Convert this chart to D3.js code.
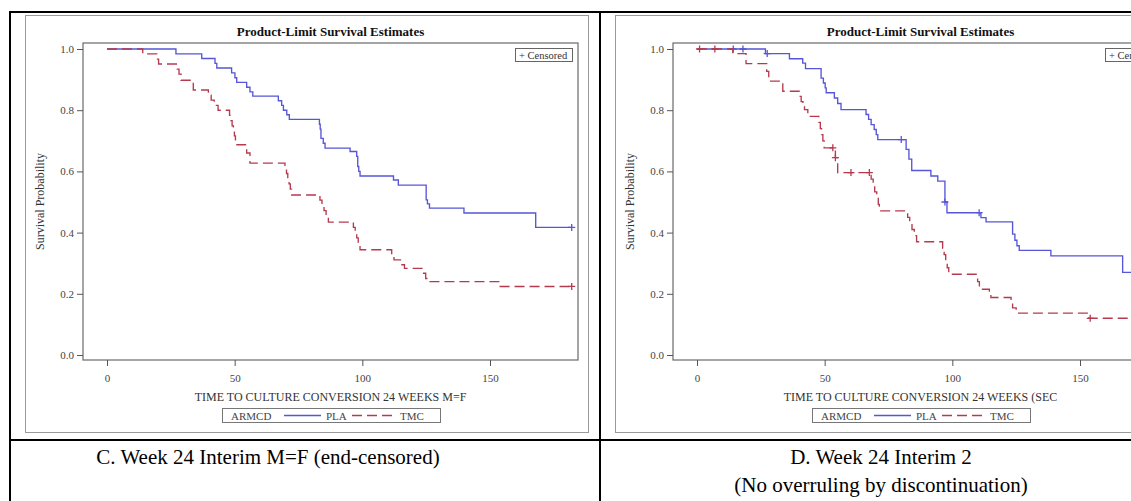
<!DOCTYPE html>
<html><head><meta charset="utf-8">
<script src="https://cdn.jsdelivr.net/npm/d3@7"></script>
<style>body{margin:0;background:#fff}svg{display:block}</style>
</head><body><svg id="c" width="1131" height="501"></svg>
<script>
// ---------- data ----------
const xTicks = [0, 50, 100, 150];
const yTicks = [0.0, 0.2, 0.4, 0.6, 0.8, 1.0];
const groupNames = ["PLA", "TMC"];
const legendTitle = "ARMCD";
const chartTitle = "Product-Limit Survival Estimates";
const yTitle = "Survival Probability";
const xTitleC = "TIME TO CULTURE CONVERSION 24 WEEKS M=F";
const xTitleD = "TIME TO CULTURE CONVERSION 24 WEEKS (SEC";
const captionC = ["C. Week 24 Interim M=F (end-censored)"];
const captionD = ["D. Week 24 Interim 2", "(No overruling by discontinuation)"];

// Panel C – PLA
const cPlaTime = [0,27,37.1,42.3,43,48.8,50.1,50.8,54.7,56,57.1,67.1,68.4,69.1,70.4,71.4,83.2,83.5,83.8,84.7,85.4,95.2,97.8,98.2,98.6,99.1,112.2,114.1,125,125.5,126.3,139.8,167.9];
const cPlaSurv = [1,0.984,0.969,0.953,0.938,0.922,0.906,0.891,0.875,0.860,0.846,0.831,0.816,0.800,0.785,0.770,0.754,0.738,0.708,0.692,0.676,0.665,0.649,0.616,0.600,0.585,0.572,0.555,0.507,0.494,0.480,0.464,0.417];
const cPlaEnd = 182;
const cPlaCensTime = [182];
const cPlaCensSurv = [0.417];
// Panel C – TMC
const cTmcTime = [0,14,19.5,20.2,27.5,28.2,29,33.8,39.7,40.8,42,43.5,48,48.5,49,49.5,49.9,50.3,54.7,56,69.7,70.3,70.8,71.3,71.8,72.3,83.4,84.2,85,85.8,86.7,96.5,97.2,97.8,98.4,99.1,111.5,112.4,115.5,116.5,124,124.8,125.8,154];
const cTmcSurv = [1,0.984,0.967,0.951,0.934,0.918,0.898,0.866,0.849,0.833,0.816,0.800,0.783,0.766,0.749,0.732,0.716,0.687,0.660,0.627,0.610,0.593,0.576,0.559,0.542,0.523,0.506,0.489,0.472,0.455,0.434,0.417,0.400,0.383,0.366,0.344,0.327,0.311,0.295,0.283,0.267,0.250,0.240,0.224];
const cTmcEnd = 182;
const cTmcCensTime = [182];
const cTmcCensSurv = [0.224];

// Panel D – PLA
const dPlaTime = [0,26.8,36.2,41.4,42.5,48.6,49.5,50.2,50.6,53.8,55.1,56.4,66.2,67.2,68.2,69.4,70.2,70.8,81.9,83,84.1,91.6,94.3,97.1,97.9,111.2,113.2,123.6,124.5,125.3,126.2,138.6,166.7];
const dPlaSurv = [1,0.985,0.968,0.954,0.936,0.905,0.889,0.873,0.857,0.840,0.822,0.802,0.786,0.770,0.753,0.737,0.720,0.704,0.672,0.640,0.603,0.585,0.568,0.500,0.465,0.449,0.435,0.395,0.375,0.357,0.342,0.324,0.270];
const dPlaEnd = 182;
const dPlaCensTime = [14.2, 18.0, 27.5, 80.0, 97.1, 110.5, 182];
const dPlaCensSurv = [1, 1, 0.985, 0.704, 0.500, 0.465, 0.270];
// Panel D – TMC
const dTmcTime = [0,14,19.2,27.3,28.1,33.6,40.1,40.8,41.5,42.1,43.4,47.7,48.3,48.8,49.3,49.8,54.2,55.1,68.2,69,69.6,70.4,71,71.4,82.5,83.3,84.2,85.1,86,96.2,96.8,97.4,98,98.6,109.9,110.6,114.5,115.1,123,123.6,125,153.4];
const dTmcSurv = [1,0.985,0.952,0.927,0.895,0.862,0.845,0.828,0.812,0.802,0.780,0.760,0.740,0.720,0.700,0.677,0.645,0.596,0.575,0.554,0.533,0.512,0.492,0.471,0.450,0.430,0.410,0.390,0.370,0.349,0.328,0.307,0.285,0.264,0.240,0.215,0.200,0.188,0.170,0.154,0.137,0.120];
const dTmcEnd = 182;
const dTmcCensTime = [1, 7, 53.2, 54.2, 60.3, 67.5, 154, 182];
const dTmcCensSurv = [1, 1, 0.677, 0.645, 0.596, 0.596, 0.120, 0.120];

// ---------- drawing ----------
const svg = d3.select("#c");
svg.append("rect").attr("width",1131).attr("height",501).attr("fill","#fff");

const SERIF = "'Liberation Serif','Times New Roman',serif";
const BLUE = "#5656d6", RED = "#b53a4e";
const DASH = "10,5";

function drawPanel(ox, xTitle, pla, tmc) {
  const g = svg.append("g").attr("transform", `translate(${ox},0)`);
  // image frame
  g.append("rect").attr("x",25.5).attr("y",15.5).attr("width",563).attr("height",417)
    .attr("fill","#fff").attr("stroke","#9a9a9a").attr("stroke-width",1);
  const L = 83, T = 43, W = 495, H = 317;
  const x = d3.scaleLinear().domain([0,150]).range([24, 407]);
  const y = d3.scaleLinear().domain([0,1]).range([312, 6]);
  const p = g.append("g").attr("transform", `translate(${L},${T})`);
  // title
  g.append("text").attr("x", L + W/2).attr("y", 36).attr("text-anchor","middle")
    .attr("font-family",SERIF).attr("font-weight","bold").attr("font-size",13).attr("fill","#111").text(chartTitle);
  // frame
  p.append("rect").attr("x",0).attr("y",0).attr("width",W).attr("height",H)
    .attr("fill","none").attr("stroke","#6a6a6a").attr("stroke-width",1.2);
  // axes
  const ya = p.append("g").call(d3.axisLeft(y).tickValues(yTicks).tickFormat(d3.format(".1f")).tickSize(6).tickPadding(3));
  const xa = p.append("g").attr("transform",`translate(0,${H})`)
    .call(d3.axisBottom(x).tickValues(xTicks).tickFormat(d3.format("d")).tickSize(6).tickPadding(8));
  [ya, xa].forEach(a => {
    a.select(".domain").remove();
    a.selectAll("line").attr("stroke","#555");
    a.selectAll("text").attr("font-family",SERIF).attr("font-size",11).attr("fill","#444");
  });
  // axis titles
  g.append("text").attr("transform",`translate(44,${T + H/2}) rotate(-90)`).attr("text-anchor","middle")
    .attr("font-family",SERIF).attr("font-size",12).attr("fill","#333").text(yTitle);
  g.append("text").attr("x", L + W/2).attr("y", 401).attr("text-anchor","middle")
    .attr("font-family",SERIF).attr("font-size",12).attr("fill","#333").text(xTitle);
  // curves
  const line = d3.line().curve(d3.curveStepAfter).x(d => x(d[0])).y(d => y(d[1]));
  function series(s, color, dash) {
    const pts = s.time.map((t,i) => [t, s.surv[i]]);
    pts.push([s.end, s.surv[s.surv.length-1]]);
    p.append("path").attr("d", line(pts)).attr("fill","none").attr("stroke",color)
      .attr("stroke-width",1.35).attr("stroke-dasharray", dash);
    const cens = s.censTime.map((t,i) => [t, s.censSurv[i]]);
    p.selectAll(null).data(cens).enter().append("path")
      .attr("d", d => `M${x(d[0])-3.5},${y(d[1])}h7M${x(d[0])},${y(d[1])-3.5}v7`)
      .attr("stroke",color).attr("stroke-width",1.3).attr("fill","none");
  }
  series(pla, BLUE, null);
  series(tmc, RED, DASH);
  // censored box
  const cb = g.append("g");
  cb.append("rect").attr("x",515.5).attr("y",48.5).attr("width",57).attr("height",13)
    .attr("fill","#fff").attr("stroke","#666");
  cb.append("text").attr("x",519).attr("y",58.5).attr("font-family",SERIF).attr("font-size",10.5)
    .attr("fill","#333").text("+ Censored");
  // legend
  const lg = g.append("g");
  lg.append("rect").attr("x",222.5).attr("y",408.5).attr("width",218).attr("height",14)
    .attr("fill","#fff").attr("stroke","#777");
  lg.append("text").attr("x",231).attr("y",419.5).attr("font-family",SERIF).attr("font-size",11).attr("fill","#444").text(legendTitle);
  lg.append("line").attr("x1",284).attr("x2",321).attr("y1",415.5).attr("y2",415.5).attr("stroke",BLUE).attr("stroke-width",1.4);
  lg.append("text").attr("x",326).attr("y",419.5).attr("font-family",SERIF).attr("font-size",11).attr("fill","#444").text(groupNames[0]);
  lg.append("line").attr("x1",352).attr("x2",394).attr("y1",415.5).attr("y2",415.5).attr("stroke",RED).attr("stroke-width",1.4).attr("stroke-dasharray",DASH);
  lg.append("text").attr("x",400).attr("y",419.5).attr("font-family",SERIF).attr("font-size",11).attr("fill","#444").text(groupNames[1]);
}

drawPanel(0, xTitleC,
  {time:cPlaTime, surv:cPlaSurv, end:cPlaEnd, censTime:cPlaCensTime, censSurv:cPlaCensSurv},
  {time:cTmcTime, surv:cTmcSurv, end:cTmcEnd, censTime:cTmcCensTime, censSurv:cTmcCensSurv});
drawPanel(590, xTitleD,
  {time:dPlaTime, surv:dPlaSurv, end:dPlaEnd, censTime:dPlaCensTime, censSurv:dPlaCensSurv},
  {time:dTmcTime, surv:dTmcSurv, end:dTmcEnd, censTime:dTmcCensTime, censSurv:dTmcCensSurv});

// table borders (on top)
const tbl = svg.append("g").attr("stroke","#000").attr("stroke-width",2).attr("fill","none");
tbl.append("line").attr("x1",9).attr("x2",1131).attr("y1",12).attr("y2",12);
tbl.append("line").attr("x1",10).attr("x2",10).attr("y1",11).attr("y2",501);
tbl.append("line").attr("x1",600).attr("x2",600).attr("y1",11).attr("y2",501);
tbl.append("line").attr("x1",9).attr("x2",1131).attr("y1",440).attr("y2",440);

// captions
function caption(cx, lines) {
  lines.forEach((t,i) => {
    svg.append("text").attr("x",cx).attr("y",464 + i*28).attr("text-anchor","middle")
      .attr("font-family",SERIF).attr("font-size",21).attr("fill","#000").text(t);
  });
}
caption(268, captionC);
caption(881, captionD);
</script></body></html>
